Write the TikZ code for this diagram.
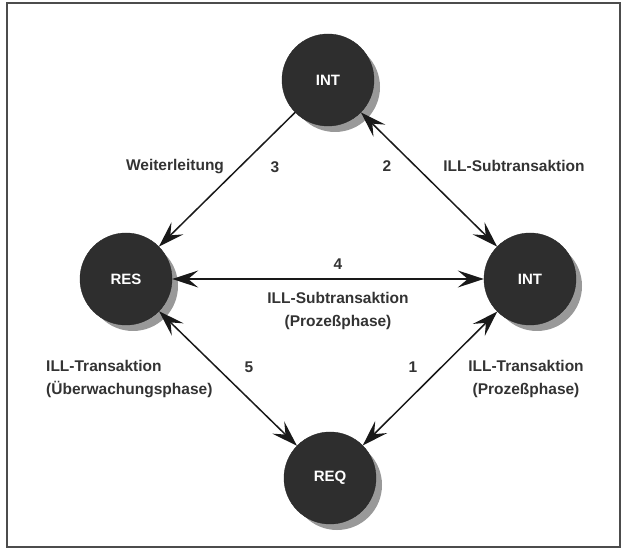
\documentclass[tikz,border=0pt]{standalone}
\usepackage{fontspec}
\setmainfont{Liberation Sans}
\usetikzlibrary{positioning}
\usetikzlibrary{calc}
\usetikzlibrary{arrows.meta}
\usetikzlibrary{backgrounds}

\tikzset{
  station/.style={circle, draw=black!85, fill=black!82, minimum size=92pt, inner sep=0pt,
    text=white, font=\fontsize{15}{18}\selectfont\bfseries},
  link/.style={line width=1.5pt, draw=black!90},
  barb/.tip={Stealth[length=26pt, width=17pt, inset=10pt]},
  edgetext/.style={text=black!80, font=\fontsize{15.5}{23}\selectfont\bfseries, inner sep=1pt, align=center},
}

\begin{document}
\begin{tikzpicture}[x=1pt, y=1pt]
    \def\hdist{202}
    \def\vdist{199}
    \useasboundingbox (0,0) rectangle (623,551);
    \draw[black!70, line width=1.5pt] (7,4) rectangle (620,548);

    \node[station] (inttop) at (328,471) {INT};
    \node[station] (res) at ($(inttop)+(-\hdist,-\vdist)$) {RES};
    \node[station] (intright) at ($(inttop)+(\hdist,-\vdist)$) {INT};
    \node[station] (req) at ($(inttop)+(2,-2*\vdist)$) {REQ};

    % shadows
    \begin{scope}[on background layer]
      \foreach \n in {inttop,res,intright,req}
        \fill[black!40] ($(\n)+(7,-7)$) circle (45);
    \end{scope}

    \draw[link, -{barb}] (inttop) -- (res);
    \draw[link, {barb}-{barb}] (inttop) -- (intright);
    \draw[link, {barb}-{barb}] (res) -- (intright);
    \draw[link, {barb}-{barb}] (res) -- (req);
    \draw[link, {barb}-{barb}] (intright) -- (req);

    % labels
    \node[edgetext] (txtweiter) at (175,384) {Weiterleitung};
    \node[edgetext] (num3) at (275,384) {3};
    \node[edgetext] (num2) at (387,385) {2};
    \node[edgetext] (txtsub) at (514,385) {ILL-Subtransaktion};
    \node[edgetext] (num4) at (338,287) {4};
    \node[edgetext] (txtsubproz) at (338,240) {ILL-Subtransaktion\\(Prozeßphase)};
    \node[edgetext] (num5) at (249,184) {5};
    \node[edgetext] (num1) at (413,184) {1};
    \node[edgetext, anchor=west, align=left] (txtueber) at (45,172) {ILL-Transaktion\\(Überwachungsphase)};
    \node[edgetext] (txtproz) at (526,172) {ILL-Transaktion\\(Prozeßphase)};
\end{tikzpicture}
\end{document}
